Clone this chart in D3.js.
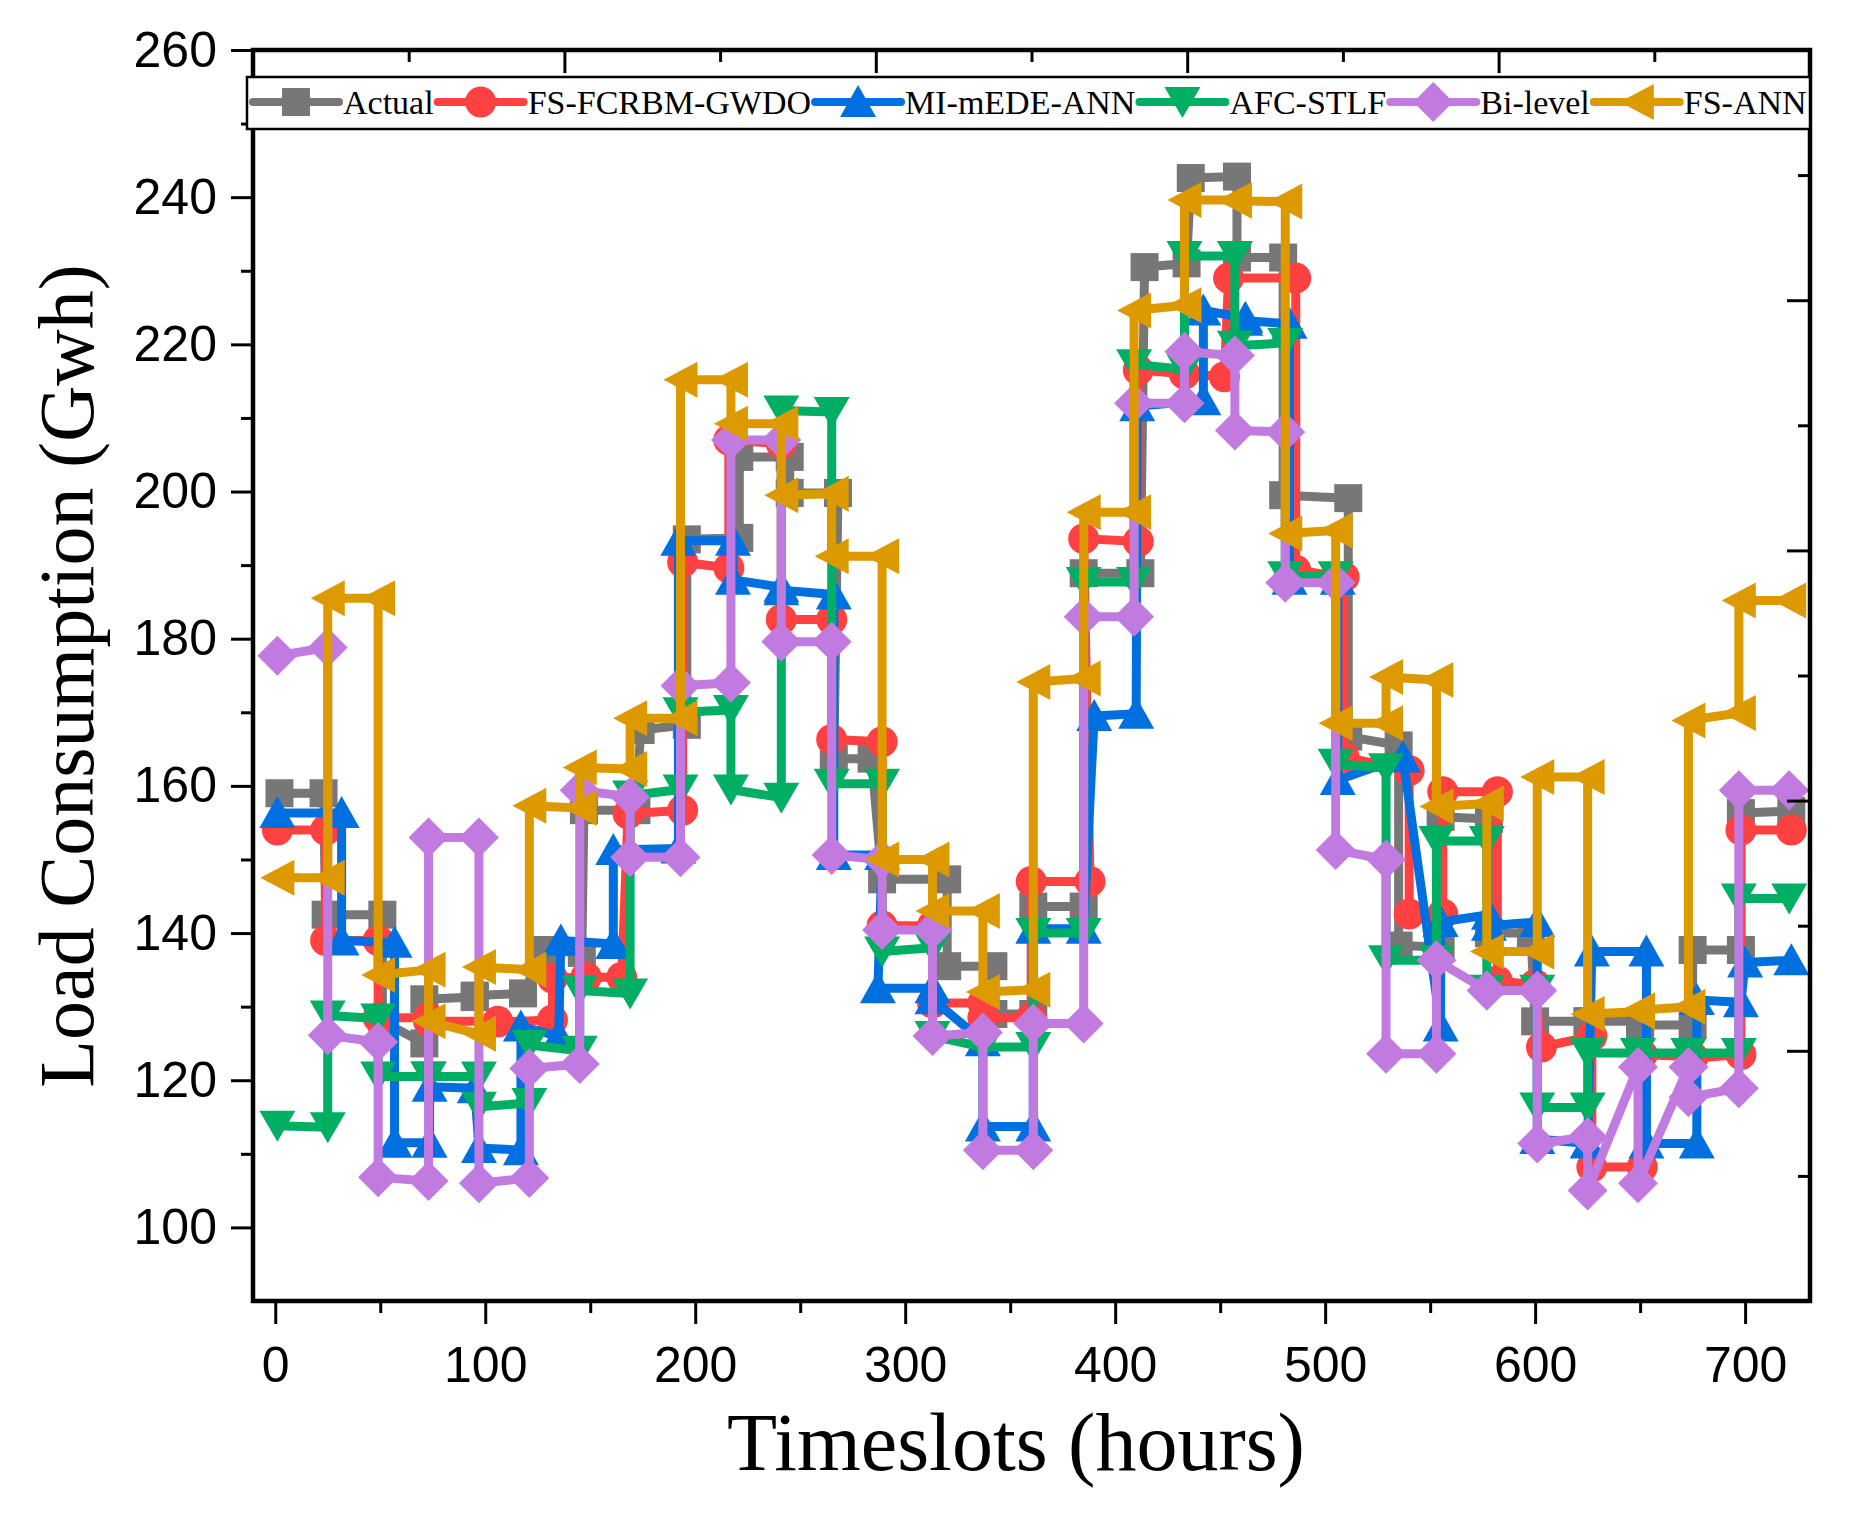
<!DOCTYPE html>
<html><head><meta charset="utf-8">
<script src="https://cdn.jsdelivr.net/npm/d3@7"></script>
<style>body{margin:0;background:#fff}</style>
</head><body>
<svg id="c" width="1861" height="1528"></svg>
<script>
const seriesNames = ["Actual","FS-FCRBM-GWDO","MI-mEDE-ANN","AFC-STLF","Bi-level","FS-ANN"];
const seriesColors = ["#777777","#ff4141","#0070e0","#00ae64","#c17be0","#dc9a00"];
const seriesShapes = ["square","circle","triUp","triDown","diamond","triLeft"];
const xTicks = [0,100,200,300,400,500,600,700];
const xMinorTicks = [50,150,250,350,450,550,650];
const yTicks = [100,120,140,160,180,200,220,240,260];
const yMinorTicks = [110,130,150,170,190,210,230,250];

// [start hour, end hour] of each daily segment
const defaultHours = [[1,25],[25,49],[49,73],[73,97],[97,121],[121,145],[145,169],[169,193],[193,217],[217,241],[241,265],[265,289],[289,313],[313,337],[337,361],[361,385],[385,409],[409,433],[433,457],[457,481],[481,505],[505,529],[529,553],[553,577],[577,601],[601,625],[625,649],[649,673],[673,697],[697,721]];
const actualHours = [[2,23],[24,51],[51,71],[71,95],[95,118],[128,146],[147,172],[174,196],[196,221],[221,245],[245,268],[266,284],[289,320],[320,342],[342,361],[361,385],[385,412],[414,434],[436,458],[458,480],[480,511],[511,535],[535,555],[555,578],[578,598],[600,625],[625,650],[650,675],[675,698],[698,722]];
const fsFcrbmHours = [[1,24],[24,49],[49,73],[73,106],[106,132],[132,148],[148,165],[168,194],[194,216],[216,241],[241,265],[265,289],[289,313],[313,337],[337,360],[360,388],[385,411],[411,433],[433,452],[454,486],[486,509],[509,540],[540,556],[556,582],[582,600],[603,627],[627,651],[651,675],[675,698],[698,722]];
const miMedeHours = [[1,31.6],[31.6,56.8],[56.8,73.5],[73.5,95],[97,117],[117,135],[136,161],[161,192],[192,218],[218,241],[241,266],[266,289],[287,313],[313,337],[337,361],[361,385],[390,410],[410.5,442],[442,462],[462,483],[483,506],[506,537],[537,555],[555,578],[578,601],[601,625],[627,653],[653,677],[677,698],[700,722]];

const actual = [[159,159],[142.5,142.5],[128,125],[131,131.3],[131.5,131.8],[137.7,137.3],[156.7,156.7],[167.6,168.3],[193.5,193.7],[204.7,204.7],[199.8,199.8],[163.7,163.7],[147.3,147.3],[135.5,135.5],[129,129],[143.6,143.6],[188.9,188.9],[230.5,231],[242.6,242.8],[231.8,231.8],[199.5,199.1],[166.7,165.5],[138.3,138.1],[155.8,155.5],[140,140],[128,128],[128,128],[127.5,127.5],[137.7,137.7],[156.3,156.6]];
const fsFcrbm = [[154,154],[139,139],[128.5,128.5],[128,128],[127.9,128.2],[133.9,134],[134,134],[156.2,156.7],[190.4,189.6],[207,206.5],[182.6,182.6],[166.3,166],[141,141],[130.5,130.5],[128.5,128.5],[147,147],[193.6,193.2],[216.5,216],[216,215.6],[229,229],[189.3,188.4],[163.9,162.1],[142.6,142.6],[159.2,159.2],[133.5,133],[124.5,126],[108.2,108.2],[123.5,123.2],[123,123.5],[154,154]];
const miMede = [[156.3,156.3],[139,138.7],[111.5,111.5],[119.1,118.9],[110.8,110.5],[127.3,126],[139,138.5],[151.3,151.5],[193.3,193.3],[188,187],[186.6,186],[150.6,150.6],[132.5,132.5],[131,125.3],[113.7,113.7],[140.6,140.6],[169.5,169.8],[211.6,212.4],[224.6,223.6],[223.2,222.8],[188,188],[160.8,163.9],[163.9,127.3],[141.5,142.5],[141,141.5],[112,111.4],[137.5,137.5],[111.4,111.4],[130.9,130.6],[136,136.3]];
const afcStlf = [[113.8,113.6],[128.8,128.4],[120.5,120.5],[120.5,120.5],[116.4,116.9],[124.8,124],[132.2,131.8],[158.7,159.5],[170,170.3],[159.5,158.4],[211,210.8],[160.3,160.3],[137.5,138],[126,124.5],[124.5,124.5],[140,140],[187.7,187.7],[217.3,216.6],[232,232],[219.8,220.2],[188.5,188.5],[163,162.4],[136.3,136.3],[152.5,152.5],[132.3,132.3],[116.3,116.3],[123.7,123.7],[123.7,123.7],[123.7,123.7],[144.7,144.7]];
const biLevel = [[177.7,178.8],[126.1,125.2],[106.8,106.3],[153,153],[106,106.7],[121.6,122.2],[159.4,158.5],[150.3,150.3],[173.6,174],[207,207],[179.6,179.6],[150.6,150],[140.4,140.4],[126,126.5],[110.5,110.5],[127.7,127.7],[183,183],[212,212],[219,218.5],[208.3,208.1],[187.6,187.6],[151.3,150],[123.6,123.6],[136.3,132.2],[132.2,132.2],[111.4,112.3],[105,121.8],[106,121.8],[117.7,118.9],[159.4,159.4]];
const fsAnn = [[147.5,147.5],[185.5,185.5],[134.3,135],[128,126.3],[135.4,135],[157.3,157],[162.5,162.3],[169.2,169.2],[215.2,215.2],[209.2,209.2],[199.5,199.7],[191.2,191.2],[150,150],[143,143],[132,132.3],[174.1,174.6],[197.2,197.2],[224.6,225.3],[239.6,239.6],[239.5,239.4],[194.3,194.7],[168.5,168.5],[174.8,174.4],[157.2,157.6],[137.5,137.5],[161.2,161.2],[129,129.3],[129.5,130],[168.9,169.9],[185.2,185.2]];

const seriesValues = [actual, fsFcrbm, miMede, afcStlf, biLevel, fsAnn];
const seriesHours = [actualHours, fsFcrbmHours, miMedeHours, defaultHours, defaultHours, defaultHours];

const svg = d3.select("#c");
svg.append("rect").attr("width",1861).attr("height",1528).attr("fill","#fff");
const L=253, R=1810, T=50, B=1301;
const x = d3.scaleLinear().domain([-10.6,730.9]).range([L,R]);
const y = d3.scaleLinear().domain([90,260]).range([B,T]);
const topS = d3.scaleLinear().domain([0,10]).range([L,R]);
const rightS = d3.scaleLinear().domain([0,10]).range([B,T]);

const shapes = {
  square: "M-14,-14H14V14H-14Z",
  circle: d3.symbol(d3.symbolCircle, Math.PI*15.5*15.5)(),
  triUp: "M0,-17L18,15L-18,15Z",
  triDown: "M-18,-15L18,-15L0,16Z",
  diamond: "M0,-20L20,0L0,20L-20,0Z",
  triLeft: "M-17,0L17,-18L17,18Z"
};

const line = d3.line().x(d=>x(d.x)).y(d=>y(d.y));
seriesValues.forEach((vals,i)=>{
  const hrs = seriesHours[i];
  const pts=[];
  vals.forEach((v,d)=>{pts.push({x:hrs[d][0],y:v[0]});pts.push({x:hrs[d][1],y:v[1]});});
  const g = svg.append("g");
  g.append("path").attr("d",line(pts)).attr("fill","none").attr("stroke",seriesColors[i])
   .attr("stroke-width",9).attr("stroke-linejoin","round").attr("stroke-linecap","round");
  g.selectAll("path.m").data(pts).join("path").attr("class","m")
   .attr("d",shapes[seriesShapes[i]]).attr("transform",d=>`translate(${x(d.x)},${y(d.y)})`)
   .attr("fill",seriesColors[i]);
});

function styleAxis(g){g.select(".domain").remove();g.selectAll(".tick line").attr("stroke","#000").attr("stroke-width",3);}
const tickFont = "Liberation Sans, Arial, sans-serif";
svg.append("g").attr("transform",`translate(0,${B})`)
  .call(d3.axisBottom(x).tickValues(xTicks).tickSize(23).tickPadding(22).tickFormat(d3.format("d")))
  .call(styleAxis).call(g=>g.selectAll("text").attr("font-family",tickFont).attr("font-size",50).attr("fill","#000"));
svg.append("g").attr("transform",`translate(0,${B})`)
  .call(d3.axisBottom(x).tickValues(xMinorTicks).tickSize(12).tickFormat(""))
  .call(styleAxis);
svg.append("g").attr("transform",`translate(${L},0)`)
  .call(d3.axisLeft(y).tickValues(yTicks).tickSize(22).tickPadding(14).tickFormat(d3.format("d")))
  .call(styleAxis).call(g=>g.selectAll("text").attr("font-family",tickFont).attr("font-size",50).attr("fill","#000"));
svg.append("g").attr("transform",`translate(${L},0)`)
  .call(d3.axisLeft(y).tickValues(yMinorTicks).tickSize(12).tickFormat(""))
  .call(styleAxis);
svg.append("g").attr("transform",`translate(0,${T})`)
  .call(d3.axisTop(topS).tickValues([2,4,6,8]).tickSize(-23).tickFormat("")).call(styleAxis);
svg.append("g").attr("transform",`translate(0,${T})`)
  .call(d3.axisTop(topS).tickValues([1,3,5,7,9]).tickSize(-12).tickFormat("")).call(styleAxis);
svg.append("g").attr("transform",`translate(${R},0)`)
  .call(d3.axisRight(rightS).tickValues([2,4,6,8]).tickSize(-23).tickFormat("")).call(styleAxis);
svg.append("g").attr("transform",`translate(${R},0)`)
  .call(d3.axisRight(rightS).tickValues([1,3,5,7,9]).tickSize(-12).tickFormat("")).call(styleAxis);
svg.append("rect").attr("x",L).attr("y",T).attr("width",R-L).attr("height",B-T)
  .attr("fill","none").attr("stroke","#000").attr("stroke-width",4.5);

const serif = "Liberation Serif, Times New Roman, serif";
svg.append("text").attr("x",1016).attr("y",1470).attr("text-anchor","middle")
  .attr("font-family",serif).attr("font-size",82).text("Timeslots (hours)");
svg.append("text").attr("transform","translate(93,676) rotate(-90)").attr("text-anchor","middle")
  .attr("font-family",serif).attr("font-size",78).text("Load Consumption (Gwh)");

const lg = svg.append("g");
lg.append("rect").attr("x",247).attr("y",77).attr("width",R-247).attr("height",52)
  .attr("fill","#fff").attr("stroke","#000").attr("stroke-width",2.5);
let cx = 249;
seriesNames.forEach((n,i)=>{
  lg.append("line").attr("x1",cx+4).attr("x2",cx+90).attr("y1",102).attr("y2",102)
    .attr("stroke",seriesColors[i]).attr("stroke-width",8).attr("stroke-linecap","round");
  lg.append("path").attr("d",shapes[seriesShapes[i]]).attr("transform",`translate(${cx+47},102)`).attr("fill",seriesColors[i]);
  const t = lg.append("text").attr("x",cx+94).attr("y",114).attr("font-family",serif)
    .attr("font-size",34).text(n);
  cx = cx+94+t.node().getComputedTextLength();
});
</script>
</body></html>
